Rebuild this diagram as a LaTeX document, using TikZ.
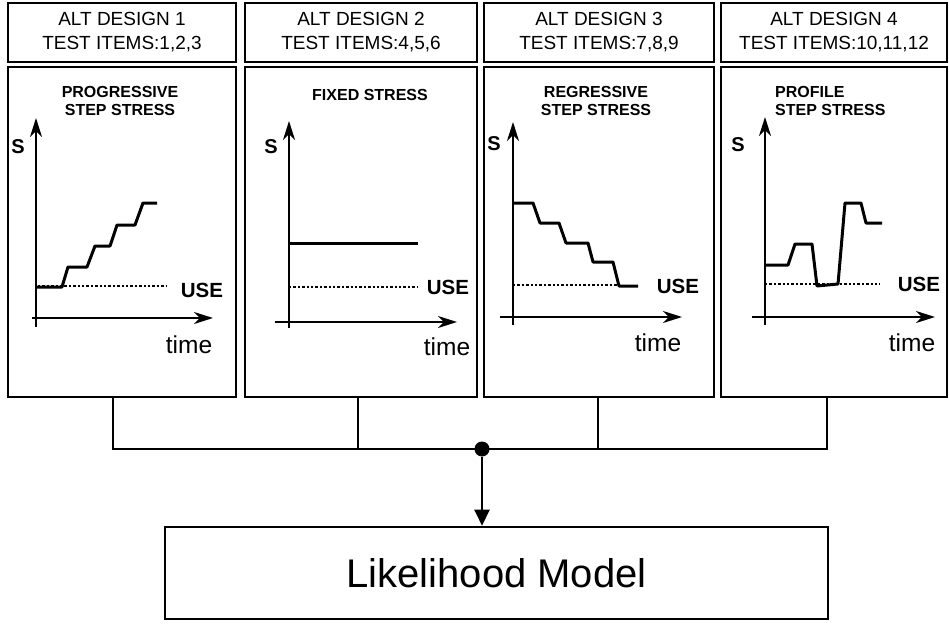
\documentclass[tikz,border=0pt]{standalone}
\usepackage{fontspec}
\setmainfont{Liberation Sans}
\usetikzlibrary{arrows.meta}

\begin{document}
\begin{tikzpicture}[x=1pt,y=-1pt,
    hdbox/.style={draw,line width=2pt,inner sep=0pt,minimum height=59pt,align=center,font=\fontsize{19}{24}\selectfont},
    panbox/.style={draw,line width=2.6pt,inner sep=0pt,minimum height=330pt},
    ttl/.style={font=\bfseries\fontsize{16}{17.5}\selectfont,inner sep=0pt},
    slbl/.style={font=\bfseries\fontsize{20}{20}\selectfont,inner sep=0pt},
    uselbl/.style={font=\bfseries\fontsize{20.5}{20}\selectfont,inner sep=0pt},
    timelbl/.style={font=\fontsize{24.5}{24}\selectfont,inner sep=0pt},
    axis/.style={line width=2.2pt,-{Stealth[length=19pt,width=12pt,inset=6pt]}},
    stair/.style={line width=3pt,line join=round},
    useline/.style={line width=2.2pt,dash pattern=on 2.4pt off 2pt},
    bus/.style={line width=2.4pt}]
  \useasboundingbox (0,0) rectangle (949,623);

  \node[hdbox,minimum width=228pt] (h1) at (122,32.5) {ALT DESIGN 1\\TEST ITEMS:1,2,3};
  \node[hdbox,minimum width=232pt] (h2) at (361,32.5) {ALT DESIGN 2\\TEST ITEMS:4,5,6};
  \node[hdbox,minimum width=230pt] (h3) at (599,32.5) {ALT DESIGN 3\\TEST ITEMS:7,8,9};
  \node[hdbox,minimum width=226pt] (h4) at (834,32.5) {ALT DESIGN 4\\TEST ITEMS:10,11,12};

  \node[panbox,minimum width=228pt] (p1) at (122,232) {};
  \node[panbox,minimum width=232pt] (p2) at (361,232) {};
  \node[panbox,minimum width=230pt] (p3) at (599,232) {};
  \node[panbox,minimum width=226pt] (p4) at (834,232) {};

  \node[ttl,align=center] (t1) at (120,101) {PROGRESSIVE\\STEP STRESS};
  \draw[axis] (36,327) -- (36,118);
  \draw[axis] (32,318) -- (213,318);
  \node[slbl] (s1) at (18,147) {S};
  \draw[useline] (38,286) -- (167,286);
  \draw[stair] (37,287) -- (62,287) -- (68,267) -- (87,267) -- (95,246) -- (110,246)
    -- (117,225) -- (135,225) -- (143,203) -- (157,203);
  \node[uselbl] (u1) at (202,290) {USE};
  \node[timelbl] (tm1) at (189,345) {time};

  \node[ttl] (t2) at (370,95) {FIXED STRESS};
  \draw[axis] (289,328) -- (289,121);
  \draw[axis] (275,322) -- (457,322);
  \node[slbl] (s2) at (271,147) {S};
  \draw[useline] (289,287) -- (417,287);
  \draw[stair] (289,243) -- (418,243);
  \node[uselbl] (u2) at (448,287) {USE};
  \node[timelbl] (tm2) at (447,347) {time};

  \node[ttl,align=center] (t3) at (596,101) {REGRESSIVE\\STEP STRESS};
  \draw[axis] (513,325) -- (513,122);
  \draw[axis] (500,317) -- (682,317);
  \node[slbl] (s3) at (494,144) {S};
  \draw[useline] (513,285) -- (618,285);
  \draw[stair] (513,203) -- (533,203) -- (540,223) -- (559,223) -- (566,243) -- (588,243)
    -- (593,262) -- (613,262) -- (619,286) -- (638,286);
  \node[uselbl] (u3) at (678,286) {USE};
  \node[timelbl] (tm3) at (658,343) {time};

  \node[ttl,align=left,anchor=west] (t4) at (775,101) {PROFILE\\STEP STRESS};
  \draw[axis] (765,325) -- (765,117);
  \draw[axis] (752,317) -- (935,317);
  \node[slbl] (s4) at (738,145) {S};
  \draw[useline] (765,284) -- (880,284);
  \draw[stair] (765,265) -- (788,265) -- (795,244) -- (812,244) -- (817,286) -- (838,284)
    -- (845,203) -- (861,203) -- (866,223) -- (882,223);
  \node[uselbl] (u4) at (919,284) {USE};
  \node[timelbl] (tm4) at (912,343) {time};

  \coordinate (j1) at (113,449);
  \coordinate (j2) at (358,449);
  \coordinate (j3) at (598,449);
  \coordinate (j4) at (827,449);
  \node[circle,fill,inner sep=0pt,minimum size=15pt] (dot) at (482,449) {};
  \node[draw,line width=2.6pt,inner sep=0pt,minimum width=663pt,minimum height=92pt,
    font=\fontsize{40}{40}\selectfont] (lik) at (496.5,573) {Likelihood Model};

  \draw[bus] (j1 |- p1.south) -- (j1) -- (j4) -- (j4 |- p4.south);
  \draw[bus] (j2 |- p2.south) -- (j2);
  \draw[bus] (j3 |- p3.south) -- (j3);
  \draw[bus,-{Triangle[length=16pt,width=15pt]}] (dot) -- (dot |- lik.north);
\end{tikzpicture}
\end{document}
